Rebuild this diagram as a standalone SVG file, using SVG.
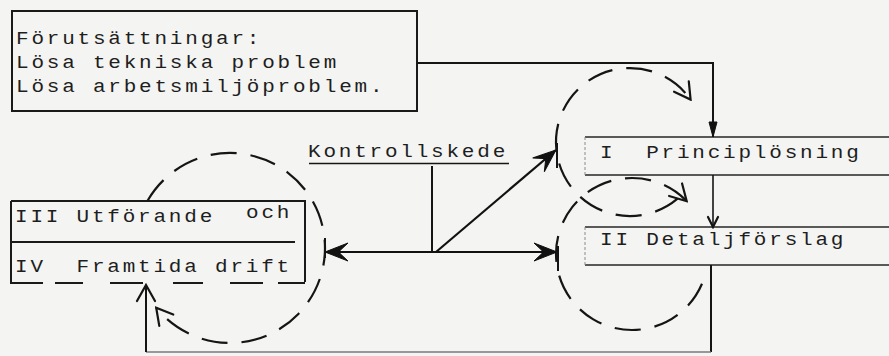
<svg xmlns="http://www.w3.org/2000/svg" width="889" height="356" viewBox="0 0 889 356">
  <style>
    .txt { font-family: "Liberation Mono", "Courier New", monospace; font-size: 17.5px; letter-spacing: 2.33px; fill: #1e1e1e; white-space: pre; }
    .box { fill: none; stroke: #1a1a1a; stroke-width: 2; }
    .thin { fill: none; stroke: #262626; stroke-width: 1.5; }
    .faint { fill: none; stroke: #8a8a8a; stroke-width: 1; stroke-dasharray: 3 2; }
    .line { fill: none; stroke: #151515; stroke-width: 2; }
    .heavy { fill: none; stroke: #111; stroke-width: 2.2; }
    .loop { fill: none; stroke: #151515; stroke-width: 2.2; stroke-dasharray: 26 14; }
    .head-fill { fill: #111; stroke: #111; stroke-width: 1; stroke-linejoin: miter; }
    .head-open { fill: none; stroke: #151515; stroke-width: 2.2; stroke-linecap: round; }
  </style>
  <defs>
    <!-- heavy barbed head for the control-stage arrows -->
    <marker id="bold" markerUnits="userSpaceOnUse" viewBox="-26 -12 30 24" markerWidth="30" markerHeight="24" refX="0" refY="0" orient="auto-start-reverse">
      <path class="head-fill" d="M0,0 L-23,-9 L-15,-1.5 L-15,1.5 L-23,9 Z"/>
    </marker>
    <!-- narrow solid head -->
    <marker id="tri" markerUnits="userSpaceOnUse" viewBox="-16 -6 18 12" markerWidth="18" markerHeight="12" refX="0" refY="0" orient="auto">
      <path class="head-fill" d="M0,0 L-15,-4 L-15,4 Z"/>
    </marker>
    <!-- small open head -->
    <marker id="vee" markerUnits="userSpaceOnUse" viewBox="-14 -8 16 16" markerWidth="16" markerHeight="16" refX="0" refY="0" orient="auto">
      <path class="head-open" d="M-10,-5 L0,0 L-10,5"/>
    </marker>
    <!-- larger open head for loops and the return line -->
    <marker id="veeL" markerUnits="userSpaceOnUse" viewBox="-20 -12 22 24" markerWidth="22" markerHeight="24" refX="0" refY="0" orient="auto">
      <path class="head-open" d="M-16,-9 L0,0 L-16,9"/>
    </marker>
  </defs>

  <rect x="0" y="0" width="889" height="356" fill="#f4f4f2"/>

  <!-- prerequisites box -->
  <g id="forutsattningar">
    <rect class="box" x="12" y="11" width="405" height="100"/>
    <text class="txt" transform="translate(16,44) scale(1.2,1)">Förutsättningar:</text>
    <text class="txt" transform="translate(16,68) scale(1.2,1)">Lösa tekniska problem</text>
    <text class="txt" transform="translate(16,92) scale(1.2,1)">Lösa arbetsmiljöproblem.</text>
  </g>

  <!-- stage I -->
  <g id="principlosning">
    <path class="thin" d="M585,137 H889 M585,175 H889"/>
    <path class="faint" d="M585,137 V175"/>
    <text class="txt" transform="translate(600,158) scale(1.2,1)" xml:space="preserve">I  Principlösning</text>
  </g>

  <!-- stage II -->
  <g id="detaljforslag">
    <path class="thin" d="M585,227 H889 M585,265 H889"/>
    <path class="faint" d="M585,227 V265"/>
    <text class="txt" transform="translate(600,245) scale(1.2,1)">II Detaljförslag</text>
  </g>

  <!-- stages III and IV -->
  <g id="utforande-drift">
    <path class="box" d="M11,201 H305 V282 M11,201 V283 H43 M55,283 H83 M110,283 H143 M173,283 H203 M230,283 H263 M278,283 H305"/>
    <path class="box" d="M11,242 H295"/>
    <text class="txt" transform="translate(15,222) scale(1.2,1)">III Utförande</text>
    <text class="txt" transform="translate(246,218) scale(1.2,1)">och</text>
    <text class="txt" transform="translate(15,272) scale(1.2,1)" xml:space="preserve">IV  Framtida drift</text>
  </g>

  <!-- control stage label -->
  <g id="kontrollskede">
    <text class="txt" transform="translate(308,157) scale(1.2,1)">Kontrollskede</text>
    <path class="line" d="M309,163.5 H509" style="stroke-width:1.6"/>
  </g>

  <g id="connectors">
    <!-- prerequisites into stage I -->
    <path class="line" d="M417,63 H713 V137" marker-end="url(#tri)"/>
    <!-- stage I to stage II -->
    <path class="line" d="M713,175 V227" style="stroke-width:1.6" marker-end="url(#vee)"/>
    <!-- control stage branches -->
    <path class="line" d="M432,166 V252"/>
    <path class="heavy" d="M325,252 H557" marker-start="url(#bold)" marker-end="url(#bold)"/>
    <path class="heavy" d="M436,252 L556,150" marker-end="url(#bold)"/>
    <!-- return line from stage II back to stage IV -->
    <path class="line" d="M711,265 V352"/>
    <path class="line" d="M146,352 H711" style="stroke:#7a7a7a;stroke-width:1.5"/>
    <path class="line" d="M146,352 V285" marker-end="url(#veeL)"/>

    <!-- feedback loops -->
    <path class="loop" d="M677.6,198.7 A74,74 0 1 1 690.6,99.6" marker-end="url(#veeL)"/>
    <path class="loop" d="M702,283.7 A76,76 0 1 1 686.7,201.2" marker-end="url(#veeL)"/>
    <path class="loop" d="M147.7,200.5 A95,95 0 1 1 156.2,307.8" marker-end="url(#veeL)"/>

    <!-- loop ticks where the arrows meet -->
    <path class="line" d="M557,143 V168 M558,246 V271 M325,238 V258"/>
  </g>
</svg>
